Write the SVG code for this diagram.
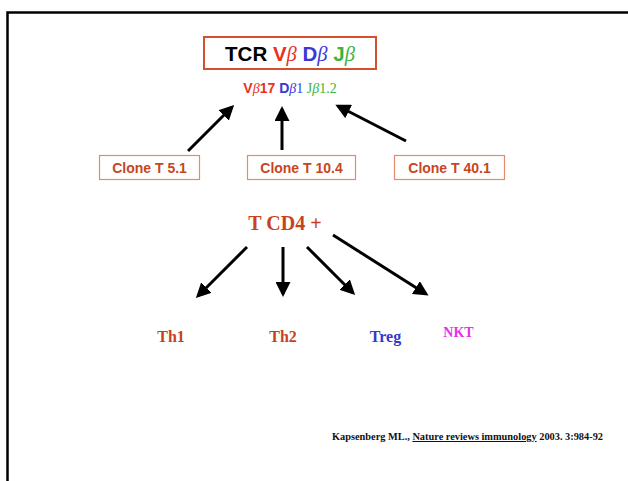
<svg xmlns="http://www.w3.org/2000/svg" width="628" height="481" viewBox="0 0 628 481">
<style>
.frame{fill:none;stroke:#000;stroke-width:2.5}
.tcrbox{fill:#fff;stroke:#d2502c;stroke-width:2}
.clone{fill:#fff;stroke:#e58a6c;stroke-width:1.2}
.clonetxt{font-family:"Liberation Sans",Arial,sans-serif;font-weight:bold;font-size:14px;fill:#c8461e;text-anchor:middle}
.sans{font-family:"Liberation Sans",Arial,sans-serif;font-weight:bold}
.serif{font-family:"Liberation Serif","Times New Roman",serif;font-weight:bold}
.serifn{font-family:"Liberation Serif","Times New Roman",serif;font-weight:normal}
.beta{font-family:"Liberation Serif","Times New Roman",serif;font-style:italic;font-weight:normal}
.red{fill:#e8321e}
.blue{fill:#3838d8}
.green{fill:#3cb43c}
.conn line{stroke:#000;stroke-width:3;marker-end:url(#ah)}
.lbl{font-family:"Liberation Serif","Times New Roman",serif;font-weight:bold;font-size:16px}
</style>
<defs>
<marker id="ah" markerWidth="5" markerHeight="5" refX="4" refY="2.5" orient="auto" markerUnits="strokeWidth">
<path d="M0,0 L5,2.5 L0,5 Z" fill="#000"/>
</marker>
</defs>
<rect width="628" height="481" fill="#fff"/>
<path class="frame" d="M7.5,481 V12.5 H628"/>

<g id="tcr">
<rect class="tcrbox" x="204" y="37" width="172" height="32"/>
<text x="290" y="61" text-anchor="middle" class="sans" font-size="20.5"><tspan fill="#000">TCR </tspan><tspan class="red">V</tspan><tspan class="red beta">β</tspan><tspan> </tspan><tspan class="blue">D</tspan><tspan class="blue beta">β</tspan><tspan> </tspan><tspan class="green">J</tspan><tspan class="green beta">β</tspan></text>
</g>

<g id="segments">
<text x="290" y="93" text-anchor="middle" font-size="14"><tspan class="sans red">V</tspan><tspan class="beta red">β</tspan><tspan class="sans red">17 </tspan><tspan class="sans blue">D</tspan><tspan class="beta blue">β</tspan><tspan class="serifn blue">1 </tspan><tspan class="serifn green">J</tspan><tspan class="beta green">β</tspan><tspan class="serifn green">1.2</tspan></text>
</g>

<g id="clone1">
<rect class="clone" x="99.5" y="155.5" width="100" height="24"/>
<text class="clonetxt" x="149.5" y="173">Clone T 5.1</text>
</g>
<g id="clone2">
<rect class="clone" x="247.5" y="155.5" width="108" height="24"/>
<text class="clonetxt" x="301.5" y="173">Clone T 10.4</text>
</g>
<g id="clone3">
<rect class="clone" x="394.5" y="155.5" width="110" height="24"/>
<text class="clonetxt" x="449.5" y="173">Clone T 40.1</text>
</g>

<g id="tcd4">
<text class="serif" x="285" y="230" text-anchor="middle" font-size="20" fill="#c8421e">T CD4 +</text>
</g>

<g id="th1"><text class="lbl" x="171" y="342" text-anchor="middle" fill="#c8421e">Th1</text></g>
<g id="th2"><text class="lbl" x="283" y="342" text-anchor="middle" fill="#c8421e">Th2</text></g>
<g id="treg"><text class="lbl" x="385.5" y="342" text-anchor="middle" fill="#3838cc">Treg</text></g>
<g id="nkt"><text class="serif" x="458.5" y="337" text-anchor="middle" font-size="14" fill="#e830e8">NKT</text></g>

<g id="citation">
<text class="serif" x="332" y="440" font-size="10" textLength="271" lengthAdjust="spacingAndGlyphs" fill="#111">Kapsenberg ML., <tspan text-decoration="underline">Nature reviews immunology</tspan> 2003. 3:984-92</text>
</g>

<g class="conn" id="connectors">
<line x1="188" y1="151" x2="232" y2="107"/>
<line x1="282" y1="150" x2="282" y2="109"/>
<line x1="406" y1="141" x2="338" y2="106"/>
<line x1="247" y1="247" x2="198" y2="296"/>
<line x1="283" y1="247" x2="283" y2="294"/>
<line x1="307" y1="247" x2="353" y2="293"/>
<line x1="333" y1="235" x2="426" y2="294"/>
</g>
</svg>
